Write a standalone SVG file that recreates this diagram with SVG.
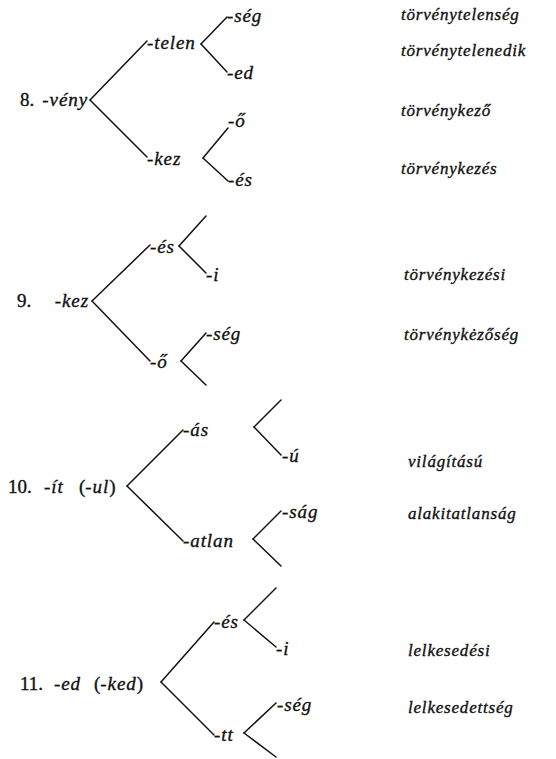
<svg xmlns="http://www.w3.org/2000/svg" width="556" height="759" viewBox="0 0 556 759">
<style>
text{font-family:"Liberation Serif","Times New Roman",serif;font-size:19px;fill:#111;stroke:#111;stroke-width:0.35}
.i{font-style:italic;letter-spacing:0.9px}
.r{font-style:normal}
.w{font-style:italic;font-size:17px;letter-spacing:0.8px}
#connectors line{stroke:#111;stroke-width:1.5;stroke-linecap:round}
</style>
<rect width="556" height="759" fill="#fff"/>
<g id="connectors">
<line x1="90" y1="100" x2="147" y2="41"/>
<line x1="90" y1="100" x2="147" y2="157"/>
<line x1="201" y1="44" x2="227" y2="17"/>
<line x1="201" y1="44" x2="227" y2="72"/>
<line x1="203" y1="158" x2="228" y2="128"/>
<line x1="203" y1="158" x2="228" y2="181"/>
<line x1="92" y1="301" x2="150" y2="245"/>
<line x1="92" y1="301" x2="150" y2="361"/>
<line x1="179" y1="246" x2="206" y2="216"/>
<line x1="179" y1="246" x2="206" y2="273"/>
<line x1="181" y1="361" x2="206" y2="333"/>
<line x1="181" y1="361" x2="206" y2="385"/>
<line x1="127" y1="486" x2="183" y2="430"/>
<line x1="127" y1="486" x2="183" y2="541"/>
<line x1="254" y1="427" x2="281" y2="400"/>
<line x1="254" y1="427" x2="281" y2="455"/>
<line x1="253" y1="539" x2="281" y2="511"/>
<line x1="253" y1="539" x2="281" y2="566"/>
<line x1="161" y1="682" x2="214" y2="622"/>
<line x1="161" y1="682" x2="214" y2="735"/>
<line x1="244" y1="620" x2="276" y2="588"/>
<line x1="244" y1="620" x2="276" y2="647"/>
<line x1="244" y1="733" x2="276" y2="703"/>
<line x1="244" y1="733" x2="276" y2="757"/>
</g>
<g id="n8">
<text class="r" x="20" y="106">8.</text>
<text class="i" x="88" y="106" text-anchor="end">-vény</text>
<text class="i" x="147" y="49">-telen</text>
<text class="i" x="227" y="22">-ség</text>
<text class="i" x="227" y="79">-ed</text>
<text class="i" x="147" y="165">-kez</text>
<text class="i" x="228" y="127">-ő</text>
<text class="i" x="228" y="186">-és</text>
</g>
<g id="n9">
<text class="r" x="17" y="307">9.</text>
<text class="i" x="89" y="307" text-anchor="end">-kez</text>
<text class="i" x="150" y="253">-és</text>
<text class="i" x="206" y="281">-i</text>
<text class="i" x="150" y="368">-ő</text>
<text class="i" x="206" y="340">-ség</text>
</g>
<g id="n10">
<text class="r" x="8" y="493">10.</text>
<text class="i" x="44" y="493">-ít</text>
<text x="79" y="493"><tspan class="r">(</tspan><tspan class="i">-ul</tspan><tspan class="r">)</tspan></text>
<text class="i" x="183" y="436">-ás</text>
<text class="i" x="183" y="547">-atlan</text>
<text class="i" x="282" y="462">-ú</text>
<text class="i" x="282" y="518">-ság</text>
</g>
<g id="n11">
<text class="r" x="20" y="690">11.</text>
<text class="i" x="54" y="690">-ed</text>
<text x="94" y="690"><tspan class="r">(</tspan><tspan class="i">-ked</tspan><tspan class="r">)</tspan></text>
<text class="i" x="214" y="628">-és</text>
<text class="i" x="276" y="655">-i</text>
<text class="i" x="214" y="741">-tt</text>
<text class="i" x="277" y="711">-ség</text>
</g>
<g id="words">
<text class="w" x="401" y="20">törvénytelenség</text>
<text class="w" x="401" y="56">törvénytelenedik</text>
<text class="w" x="401" y="116">törvénykező</text>
<text class="w" x="401" y="174">törvénykezés</text>
<text class="w" x="404" y="280">törvénykezési</text>
<text class="w" x="404" y="340">törvénykėzőség</text>
<text class="w" x="408" y="467">világítású</text>
<text class="w" x="408" y="519">alakitatlanság</text>
<text class="w" x="408" y="656">lelkesedési</text>
<text class="w" x="408" y="713">lelkesedettség</text>
</g>
</svg>
